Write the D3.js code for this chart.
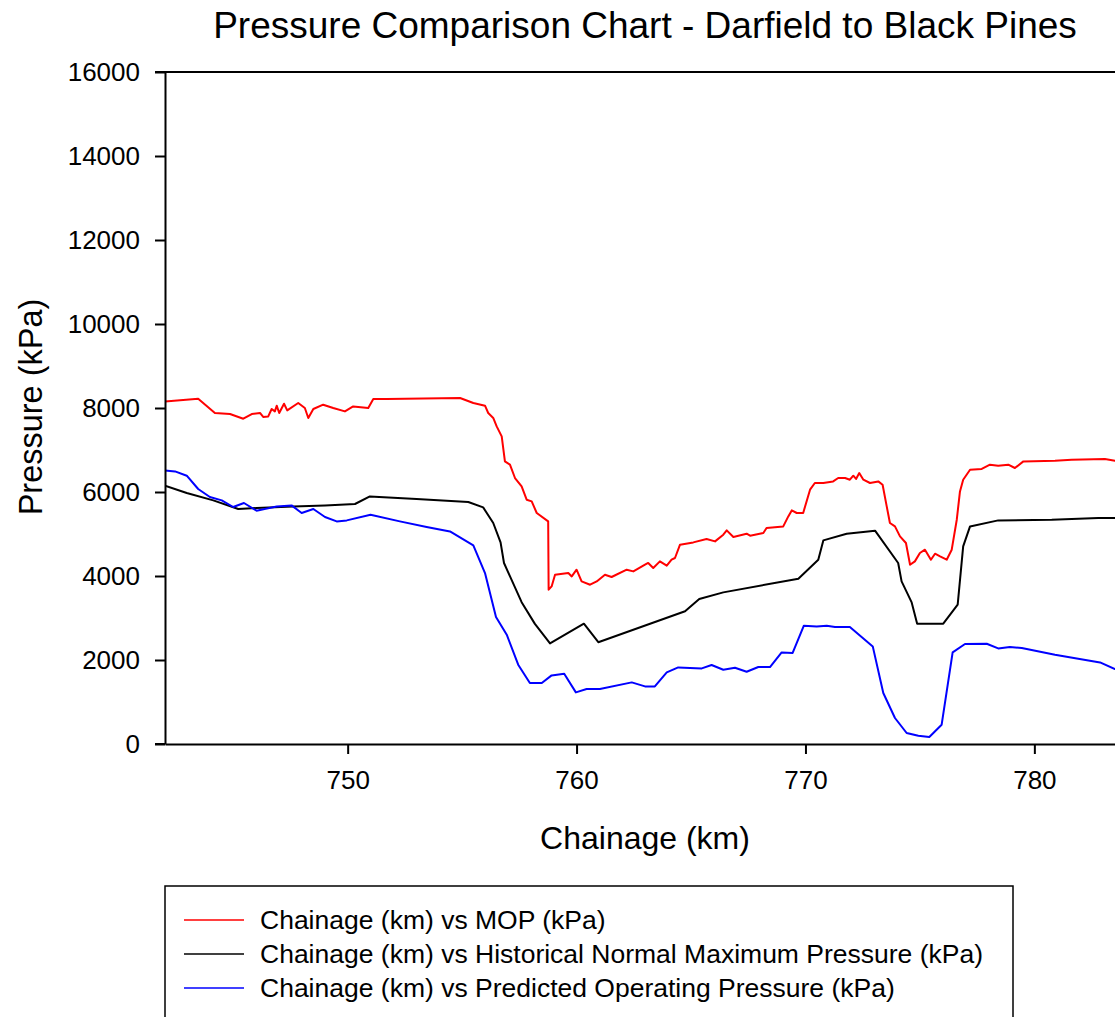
<!DOCTYPE html>
<html>
<head>
<meta charset="utf-8">
<script src="https://cdn.jsdelivr.net/npm/d3@7"></script>
<style>
  html, body { margin: 0; padding: 0; background: #fff; }
  svg { display: block; font-family: "Liberation Sans", Arial, sans-serif; }
</style>
</head>
<body>
<svg id="chart" width="1115" height="1017"></svg>
<script>
// Chainage (km) and pressure (kPa) for each series
const mopKm = [742.02, 743.47, 744.20, 744.86, 745.44, 745.81, 746.17, 746.31, 746.53, 746.68, 746.82, 746.90, 747.01, 747.22, 747.36, 747.84, 748.13, 748.28, 748.50, 748.93, 749.37, 749.88, 750.24, 750.90, 751.12, 751.70, 754.91, 755.49, 756.00, 756.14, 756.36, 756.51, 756.73, 756.87, 757.09, 757.31, 757.60, 757.82, 758.04, 758.26, 758.76, 758.78, 758.91, 759.06, 759.64, 759.79, 760.00, 760.22, 760.59, 760.88, 761.24, 761.53, 762.19, 762.48, 762.99, 763.13, 763.35, 763.64, 763.94, 764.15, 764.30, 764.52, 765.10, 765.68, 766.05, 766.41, 766.56, 766.85, 767.43, 767.58, 768.16, 768.30, 769.03, 769.25, 769.40, 769.62, 769.90, 770.20, 770.41, 770.78, 771.21, 771.43, 771.73, 771.94, 772.09, 772.21, 772.35, 772.53, 772.82, 773.18, 773.37, 773.55, 773.69, 773.91, 774.13, 774.39, 774.57, 774.78, 775.00, 775.22, 775.48, 775.66, 775.88, 776.17, 776.39, 776.61, 776.75, 776.89, 777.19, 777.70, 778.06, 778.42, 778.86, 779.15, 779.52, 780.90, 781.63, 783.08, 783.52, 784.00];
const mopKpa = [8157, 8221, 7881, 7857, 7745, 7857, 7881, 7786, 7800, 7976, 7919, 8055, 7881, 8102, 7943, 8119, 8000, 7762, 7976, 8079, 8000, 7919, 8038, 8000, 8214, 8214, 8238, 8119, 8055, 7881, 7762, 7562, 7324, 6729, 6650, 6333, 6133, 5817, 5776, 5500, 5300, 3674, 3752, 4031, 4071, 3990, 4150, 3871, 3793, 3871, 4031, 3976, 4150, 4110, 4269, 4310, 4190, 4348, 4245, 4388, 4429, 4745, 4800, 4881, 4824, 4983, 5086, 4929, 5007, 4960, 5024, 5143, 5181, 5419, 5562, 5500, 5500, 6055, 6214, 6214, 6252, 6333, 6333, 6293, 6388, 6310, 6452, 6293, 6214, 6252, 6174, 5657, 5262, 5181, 4943, 4786, 4269, 4348, 4548, 4626, 4388, 4531, 4467, 4388, 4626, 5340, 6014, 6293, 6531, 6548, 6650, 6626, 6650, 6571, 6729, 6745, 6769, 6786, 6745, 6760];

const hnmpKm = [742.02, 742.97, 744.13, 745.22, 746.02, 747.62, 749.01, 750.32, 750.97, 753.01, 755.27, 755.92, 756.36, 756.68, 756.83, 757.60, 758.18, 758.84, 760.32, 760.95, 764.74, 765.36, 766.41, 769.69, 770.56, 770.78, 771.80, 773.04, 774.05, 774.20, 774.64, 774.88, 776.02, 776.65, 776.89, 777.19, 778.42, 780.76, 782.79, 784.00];
const hnmpKpa = [6150, 5976, 5800, 5595, 5619, 5657, 5681, 5714, 5895, 5833, 5762, 5633, 5262, 4800, 4310, 3376, 2860, 2395, 2864, 2424, 3160, 3452, 3610, 3936, 4388, 4848, 5007, 5079, 4310, 3871, 3371, 2864, 2864, 3317, 4705, 5181, 5324, 5340, 5381, 5381];

const popKm = [742.02, 742.46, 742.97, 743.47, 743.98, 744.50, 745.00, 745.47, 746.02, 746.90, 747.55, 747.99, 748.50, 749.01, 749.52, 749.96, 751.00, 752.28, 753.45, 754.47, 755.49, 756.00, 756.48, 756.95, 757.45, 757.96, 758.48, 758.91, 759.46, 759.97, 760.44, 761.02, 762.41, 762.99, 763.42, 763.94, 764.44, 765.47, 765.90, 766.41, 766.92, 767.43, 767.94, 768.45, 768.96, 769.44, 769.93, 770.49, 770.93, 771.29, 771.94, 772.94, 773.40, 773.91, 774.42, 774.93, 775.41, 775.95, 776.43, 776.97, 777.92, 778.42, 778.93, 779.45, 780.90, 782.87, 783.52, 784.00];
const popKpa = [6514, 6490, 6388, 6071, 5881, 5800, 5643, 5738, 5555, 5657, 5681, 5500, 5595, 5405, 5300, 5324, 5460, 5300, 5167, 5062, 4729, 4071, 3024, 2602, 1888, 1452, 1452, 1633, 1674, 1229, 1310, 1310, 1467, 1371, 1371, 1705, 1824, 1800, 1881, 1769, 1817, 1721, 1833, 1833, 2181, 2167, 2817, 2800, 2817, 2786, 2786, 2324, 1214, 619, 262, 198, 167, 460, 2181, 2381, 2388, 2276, 2310, 2286, 2126, 1943, 1786, 1700];

const xTicks = [750, 760, 770, 780];
const yTicks = [0, 2000, 4000, 6000, 8000, 10000, 12000, 14000, 16000];

const seriesNames = [
  "Chainage (km) vs MOP (kPa)",
  "Chainage (km) vs Historical Normal Maximum Pressure (kPa)",
  "Chainage (km) vs Predicted Operating Pressure (kPa)"
];
const seriesColors = ["#ff0000", "#000000", "#0000ff"];

const series = [
  mopKm.map((k, i) => [k, mopKpa[i]]),
  hnmpKm.map((k, i) => [k, hnmpKpa[i]]),
  popKm.map((k, i) => [k, popKpa[i]])
];

const svg = d3.select("#chart");

// Plot frame: left edge at 165 px, 22.89 px per km
const plotLeft = 165, plotTop = 72, plotBottom = 744;
const pxPerKm = 22.89;
const x = d3.scaleLinear().domain([742.02, 785]).range([plotLeft, plotLeft + (785 - 742.02) * pxPerKm]);
const y = d3.scaleLinear().domain([0, 16000]).range([plotBottom, plotTop]);

// Title
svg.append("text")
  .attr("x", 645).attr("y", 38)
  .attr("text-anchor", "middle")
  .attr("font-size", 37)
  .text("Pressure Comparison Chart - Darfield to Black Pines");

// Clip to plot area
svg.append("clipPath").attr("id", "plotClip")
  .append("rect").attr("x", plotLeft).attr("y", plotTop - 5).attr("width", 2000).attr("height", plotBottom - plotTop + 10);

// Series lines
const line = d3.line().x(d => x(d[0])).y(d => y(d[1]));
svg.append("g").attr("clip-path", "url(#plotClip)")
  .selectAll("path").data(series).join("path")
  .attr("d", line)
  .attr("fill", "none")
  .attr("stroke", (d, i) => seriesColors[i])
  .attr("stroke-width", 2)
  .attr("stroke-linejoin", "round");

// Top frame line
svg.append("line")
  .attr("x1", plotLeft - 10).attr("x2", 1200)
  .attr("y1", plotTop).attr("y2", plotTop)
  .attr("stroke", "#000").attr("stroke-width", 2);

// Y axis
const yAxis = svg.append("g")
  .attr("transform", `translate(${plotLeft},0)`)
  .call(d3.axisLeft(y).tickValues(yTicks).tickSize(10).tickSizeOuter(0).tickFormat(d3.format("d")));
yAxis.select(".domain").attr("stroke-width", 2);
yAxis.selectAll(".tick line").attr("stroke-width", 2);
yAxis.selectAll(".tick text")
  .attr("x", -25)
  .attr("font-size", 26)
  .attr("font-family", "Liberation Sans, Arial, sans-serif")
  .attr("fill", "#000");

// X axis
const xAxis = svg.append("g")
  .attr("transform", `translate(0,${plotBottom})`)
  .call(d3.axisBottom(x).tickValues(xTicks).tickSize(10).tickSizeOuter(0).tickFormat(d3.format("d")));
xAxis.select(".domain").attr("stroke-width", 2);
xAxis.selectAll(".tick line").attr("stroke-width", 2);
xAxis.selectAll(".tick text")
  .attr("y", 27)
  .attr("font-size", 26)
  .attr("font-family", "Liberation Sans, Arial, sans-serif")
  .attr("fill", "#000");
// Extend the baseline left to meet the 0 tick
svg.append("line")
  .attr("x1", plotLeft - 10).attr("x2", plotLeft)
  .attr("y1", plotBottom).attr("y2", plotBottom)
  .attr("stroke", "#000").attr("stroke-width", 2);

// Axis titles
svg.append("text")
  .attr("x", 645).attr("y", 849)
  .attr("text-anchor", "middle")
  .attr("font-size", 32)
  .text("Chainage (km)");

svg.append("text")
  .attr("transform", "translate(42,407) rotate(-90)")
  .attr("text-anchor", "middle")
  .attr("font-size", 32.5)
  .text("Pressure (kPa)");

// Legend
const legend = svg.append("g");
legend.append("rect")
  .attr("x", 165).attr("y", 886)
  .attr("width", 848).attr("height", 200)
  .attr("fill", "none").attr("stroke", "#000").attr("stroke-width", 1.5);

const rowY = [920, 954, 988];
seriesNames.forEach((name, i) => {
  legend.append("line")
    .attr("x1", 184).attr("x2", 244)
    .attr("y1", rowY[i]).attr("y2", rowY[i])
    .attr("stroke", seriesColors[i]).attr("stroke-width", 1.5);
  legend.append("text")
    .attr("x", 260).attr("y", rowY[i] + 9)
    .attr("font-size", 26.5)
    .text(name);
});
</script>
</body>
</html>
